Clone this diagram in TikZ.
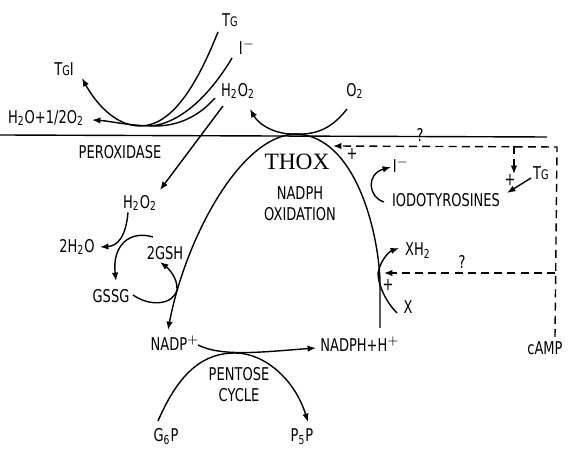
\documentclass[tikz,border=0pt]{standalone}
\usepackage{fontspec}
\usetikzlibrary{arrows.meta}
\newfontfamily\lblfont{DejaVu Sans}[FakeStretch=0.74]
\newfontfamily\thoxfont{Liberation Serif}
\newcommand{\tgsmall}{T{\fontsize{6.6}{7}\selectfont G}}
\begin{document}
\begin{tikzpicture}[%
    lbl/.style = {inner sep = 0pt, font = \lblfont\fontsize{8.8}{10.5}\selectfont, align = center},
    big/.style = {inner sep = 0pt, font = \thoxfont\fontsize{11.7}{13}\selectfont},
    path/.style = {line width = 0.7pt},
    ctrl/.style = {line width = 0.7pt, dash pattern = on 4pt off 2.6pt},
    >={Latex[length = 4.2pt, width = 3.2pt]},
    x = 0.5pt, y = -0.5pt]

    \useasboundingbox (0, 0) rectangle (580, 464);

    \node[lbl] (tgtop) at (230, 20) {\tgsmall};
    \node[lbl] (itop) at (247, 47) {I$^{-}$};
    \node[lbl] (tgi) at (64, 69) {\tgsmall I};
    \node[lbl] (h2o2top) at (238, 91) {H\textsubscript{2}O\textsubscript{2}};
    \node[lbl] (water) at (46, 118) {H\textsubscript{2}O+1/2O\textsubscript{2}};
    \node[lbl] (perox) at (120, 152) {PEROXIDASE};
    \node[lbl] (o2) at (355, 91) {O\textsubscript{2}};
    \node[big] (thox) at (297, 162) {THOX};
    \node[lbl] (oxid) at (300, 204) {NADPH\\OXIDATION};
    \node[lbl] (iright) at (401, 165) {I$^{-}$};
    \node[lbl] (iodo) at (446, 200) {IODOTYROSINES};
    \node[lbl] (tgright) at (541, 173) {\tgsmall};
    \node[lbl] (xh2) at (418, 251) {XH\textsubscript{2}};
    \node[lbl] (xx) at (408, 307) {X};
    \node[lbl] (camp) at (545, 348) {cAMP};
    \node[lbl] (h2o2low) at (140, 203) {H\textsubscript{2}O\textsubscript{2}};
    \node[lbl] (twoh2o) at (77, 247) {2H\textsubscript{2}O};
    \node[lbl] (twogsh) at (165, 253) {2GSH};
    \node[lbl] (gssg) at (111, 296) {GSSG};
    \node[lbl] (nadp) at (175, 343) {NADP$^{+}$};
    \node[lbl] (nadphh) at (360, 344) {NADPH+H$^{+}$};
    \node[lbl] (pentose) at (239, 385) {PENTOSE\\CYCLE};
    \node[lbl] (g6p) at (166, 437) {G\textsubscript{6}P};
    \node[lbl] (p5p) at (302, 437) {P\textsubscript{5}P};
    \node[lbl] (qtop) at (420, 135) {?};
    \node[lbl] (qlow) at (462, 262) {?};
    \node[lbl] (plusa) at (352, 154) {+};
    \node[lbl] (plusb) at (388, 285) {+};
    \node[lbl] (plusc) at (510, 180) {+};

    \coordinate (memL) at (0, 135);
    \coordinate (memR) at (547, 137);
    \coordinate (top) at (296, 134);
    \coordinate (archR) at (380, 328);
    \coordinate (archK) at (380, 280);
    \coordinate (archL) at (168, 330);
    \coordinate (perA) at (140, 126);
    \coordinate (perB) at (150, 126);
    \coordinate (perC) at (155, 126);
    \coordinate (tgiTip) at (82, 78);
    \coordinate (waterTip) at (92, 120);
    \coordinate (h2o2Tip) at (250, 109);
    \coordinate (o2In) at (347, 109);
    \coordinate (h2o2In) at (215, 98);
    \coordinate (h2o2Out) at (223, 106);
    \coordinate (h2o2Low) at (160, 190);
    \coordinate (gshIn) at (153, 237);
    \coordinate (gsshTip) at (116, 281);
    \coordinate (waterLow) at (100, 247);
    \coordinate (gsshOut) at (133, 295);
    \coordinate (gshTip) at (160, 262);
    \coordinate (nadpOut) at (198, 345);
    \coordinate (nadphTip) at (316, 348);
    \coordinate (g6pOut) at (158, 421);
    \coordinate (p5pTip) at (308, 422);
    \coordinate (xIn) at (397, 313);
    \coordinate (xTouch) at (378, 273);
    \coordinate (xh2Tip) at (399, 248);
    \coordinate (iodoOut) at (384, 202);
    \coordinate (iTip) at (391, 167);
    \coordinate (cornerTop) at (557, 147);
    \coordinate (campTop) at (555, 337);
    \coordinate (thoxIn) at (333, 146);
    \coordinate (branch) at (514, 146);
    \coordinate (branchTip) at (514, 174);
    \coordinate (sideR) at (555, 273);
    \coordinate (sideTip) at (384, 273);
    \coordinate (tgOut) at (531, 178);
    \coordinate (tgTip) at (507, 193);

    \draw[path] (memL) -- (memR);

    \draw[path, ->] (archR) -- (archK) .. controls (378, 230) and (355, 136) .. (top)
        .. controls (240, 135) and (185, 240) .. (archL);
    \draw[path, ->] (top) .. controls (276, 135) and (259, 125) .. (h2o2Tip);
    \draw[path] (o2In) .. controls (333, 127) and (318, 135) .. (top);

    \draw[path, ->] (tgtop.south) ++(-12, 5) .. controls (195, 90) and (170, 126) .. (perA)
        .. controls (115, 126) and (95, 102) .. (tgiTip);
    \draw[path] (itop.south) ++(-15, 3) .. controls (210, 95) and (180, 124) .. (perB);
    \draw[path, ->] (h2o2In) .. controls (200, 115) and (180, 126) .. (perC)
        .. controls (130, 126) and (110, 121) .. (waterTip);
    \draw[path, ->] (h2o2Out) -- (h2o2Low);

    \draw[path, ->] (h2o2low.south) ++(-12, 1) .. controls (126, 236) and (118, 246) .. (waterLow);
    \draw[path, ->] (gshIn) .. controls (130, 230) and (112, 245) .. (gsshTip);
    \draw[path, ->] (gsshOut) .. controls (150, 307) and (173, 305) .. (177, 290)
        .. controls (178, 278) and (168, 268) .. (gshTip);

    \draw[path, ->] (nadpOut) .. controls (222, 357) and (262, 352) .. (nadphTip);
    \draw[path, ->] (g6pOut) .. controls (180, 370) and (205, 353) .. (235, 353)
        .. controls (265, 353) and (295, 380) .. (p5pTip);

    \draw[path, ->] (xIn) .. controls (386, 302) and (378, 285) .. (xTouch)
        .. controls (380, 262) and (388, 252) .. (xh2Tip);
    \draw[path, ->] (iodoOut) .. controls (368, 197) and (366, 174) .. (iTip);

    \draw[ctrl, ->] (campTop) -- (cornerTop) -- (thoxIn);
    \draw[ctrl, ->] (branch) -- (branchTip);
    \draw[ctrl, ->] (sideR) -- (sideTip);
    \draw[path, ->] (tgOut) -- (tgTip);
\end{tikzpicture}
\end{document}
